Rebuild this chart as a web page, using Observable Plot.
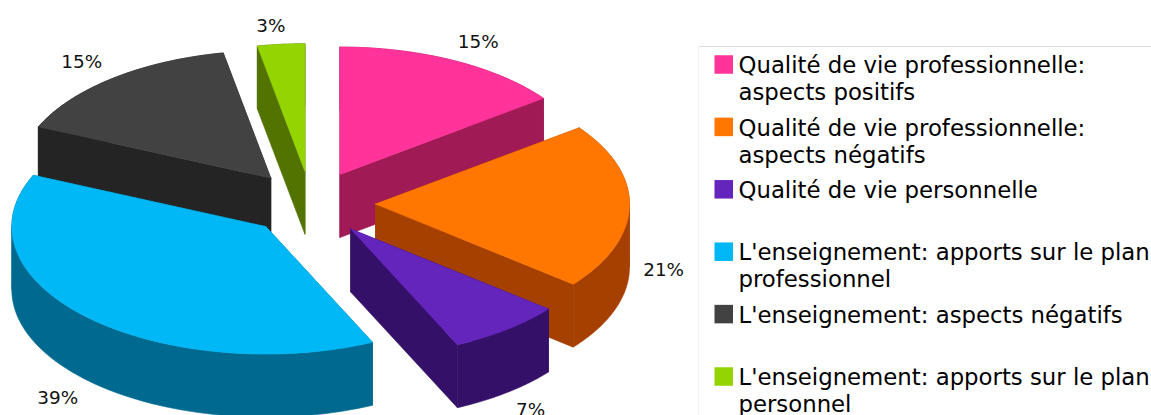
<!DOCTYPE html>
<html>
<head>
<meta charset="utf-8">
<script src="https://cdn.jsdelivr.net/npm/d3@7"></script>
<script src="https://cdn.jsdelivr.net/npm/@observablehq/plot@0.6"></script>
<style>
html,body{margin:0;padding:0;background:#fff;overflow:hidden}
svg{display:block}
</style>
</head>
<body>
<div id="chart"></div>
<script>
// Data
const categories = [
  ["Qualité de vie professionnelle:", "aspects positifs"],
  ["Qualité de vie professionnelle:", "aspects négatifs"],
  ["Qualité de vie personnelle"],
  ["L'enseignement: apports sur le plan", "professionnel"],
  ["L'enseignement: aspects négatifs"],
  ["L'enseignement: apports sur le plan", "personnel"]
];
const values = [14.8, 21.0, 7.3, 38.5, 15.4, 3.0];

// Styles
const topColors = ["#ff3399", "#ff7700", "#6425bd", "#00b8f5", "#424242", "#94d400"];
const wallColors = ["#a01a55", "#a64000", "#351068", "#00698f", "#242424", "#527300"];
const drawOrder = [4, 5, 0, 1, 2, 3];
const labelNudge = [[5,1],[-9,0],[-3,0],[0,2],[-4,1],[-6,3]];

// Layout of the projected pie
const cx = 310.5, cy = 203, rx = 254, ry = 127.5, depth = 63, explode = 0.254, labelK = 1.17;

const total = d3.sum(values);
let acc = 0;
const slices = values.map((v, i) => {
  const a0 = acc / total * 2 * Math.PI;
  acc += v;
  const a1 = acc / total * 2 * Math.PI;
  const mid = (a0 + a1) / 2;
  return {i, v, a0, a1, mid,
    ax: cx + explode * rx * Math.sin(mid),
    ay: cy - explode * ry * Math.cos(mid)};
});
const rim = (s, a) => [s.ax + rx * Math.sin(a), s.ay - ry * Math.cos(a)];
const sample = (s, a0, a1) => d3.range(0, 61).map(k => rim(s, a0 + (a1 - a0) * k / 60));

const faces = [];
const addFace = (id, color, pts) => pts.concat([pts[0]]).forEach(p => faces.push({id, color, x: p[0], y: p[1]}));
for (const i of drawOrder) {
  const s = slices[i], top = sample(s, s.a0, s.a1), down = p => [p[0], p[1] + depth];
  const apex = [s.ax, s.ay];
  addFace(`w0${i}`, wallColors[i], [apex, top[0], down(top[0]), down(apex)]);
  addFace(`w1${i}`, wallColors[i], [apex, top[60], down(top[60]), down(apex)]);
  // outer wall, cut where the rim turns back in x so each piece is a simple shape
  const cuts = [s.a0, ...[Math.PI / 2, 3 * Math.PI / 2].filter(a => a > s.a0 && a < s.a1), s.a1];
  d3.pairs(cuts).forEach(([a, b], k) => {
    const part = sample(s, a, b);
    addFace(`w2${i}-${k}`, wallColors[i], part.concat(part.map(down).reverse()));
  });
  addFace(`t${i}`, topColors[i], [apex].concat(top));
}

const pctLabels = slices.map(s => ({
  text: `${Math.round(s.v)}%`,
  x: s.ax + labelK * rx * Math.sin(s.mid) + labelNudge[s.i][0],
  y: s.ay - labelK * ry * Math.cos(s.mid) + (Math.cos(s.mid) < 0 ? depth : 0) + labelNudge[s.i][1]
}));

// Legend layout
const legX = 714.5, legTextX = 738, legY0 = 64.5, legStep = 62.4, legLine = 27, sw = 18.5;
const swatches = categories.map((c, i) => ({
  color: topColors[i],
  x1: legX, x2: legX + sw,
  y1: legY0 + legStep * i - sw / 2, y2: legY0 + legStep * i + sw / 2
}));
const legendLines = categories.flatMap((lines, i) =>
  lines.map((t, j) => ({t, x: legTextX, y: legY0 + 1 + legStep * i + legLine * j})));

const chart = Plot.plot({
  width: 1151, height: 415, margin: 0,
  style: {background: "#fff", fontFamily: "'DejaVu Sans'"},
  x: {domain: [0, 1151], range: [0, 1151], axis: null},
  y: {domain: [0, 415], range: [0, 415], axis: null},
  color: {type: "identity"},
  marks: [
    Plot.line(faces, {x: "x", y: "y", z: "id", fill: "color", stroke: "color", strokeWidth: 0.6, curve: "linear"}),
    Plot.text(pctLabels, {x: "x", y: "y", text: "text", fontSize: 18.4, fill: "#111"}),
    Plot.ruleY([46], {x1: 698, x2: 1151, stroke: "#dddddd", strokeWidth: 1}),
    Plot.ruleX([698], {y1: 46, y2: 415, stroke: "#f2f2f2", strokeWidth: 1}),
    Plot.rect(swatches, {x1: "x1", x2: "x2", y1: "y1", y2: "y2", fill: "color"}),
    Plot.text(legendLines, {x: "x", y: "y", text: "t", textAnchor: "start", fontSize: 22.8, fill: "#000"})
  ]
});
document.getElementById("chart").append(chart);
</script>
</body>
</html>
